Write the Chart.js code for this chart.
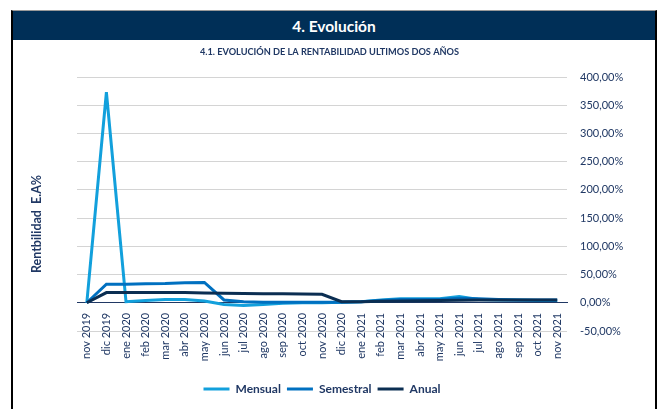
<!DOCTYPE html>
<html>
<head>
<meta charset="utf-8">
<script src="https://cdn.jsdelivr.net/npm/chart.js@4.4.0/dist/chart.umd.min.js"></script>
<style>
  html, body { margin: 0; padding: 0; background: #fff; }
  #panel { position: absolute; left: 11px; top: 10px; width: 642px; height: 420px;
           border-left: 2px solid #000; border-right: 2px solid #000; border-top: 1px solid #999; }
  #header { position: absolute; left: 0; top: 0; width: 642px; height: 29px; background: #002f57;
            color: #fff; font: bold 15.5px Lato, sans-serif; text-align: center; line-height: 31px; }
  #wrap { position: absolute; left: 0; top: 0; width: 659px; height: 409px; }
</style>
</head>
<body>
<div id="panel"><div id="header">4. Evolución</div></div>
<div id="wrap"><canvas id="chart" width="659" height="409"></canvas></div>
<script>
// categorias (meses)
var labels = ['nov 2019', 'dic 2019', 'ene 2020', 'feb 2020', 'mar 2020', 'abr 2020', 'may 2020',
  'jun 2020', 'jul 2020', 'ago 2020', 'sep 2020', 'oct 2020', 'nov 2020', 'dic 2020',
  'ene 2021', 'feb 2021', 'mar 2021', 'abr 2021', 'may 2021', 'jun 2021', 'jul 2021',
  'ago 2021', 'sep 2021', 'oct 2021', 'nov 2021'];

// rentabilidad E.A. en %
var mensual = [0, 373, 2, 4, 6, 6, 3, -3, -5, -3, -1, 0, 0, 1, 2, 5, 7, 7, 7, 11, 6, 5, 5, 4, 4];
var semestral = [0, 33, 33, 33.5, 34, 35.5, 36, 5, 2, 1, 1, 1, 1, 1, 2, 4, 6, 6, 6, 8, 7, 6, 5, 5, 5];
var anual = [0, 18, 18, 18, 18, 18, 17.5, 17, 16.5, 16, 16, 15.5, 15, 2, 2, 2.5, 3, 3.5, 4, 4.5, 5, 5, 5, 5, 5];

var seriesNames = ['Mensual', 'Semestral', 'Anual'];
var colors = ['#12a0dc', '#0070c0', '#0b2e52'];
var navy = '#203864';
var yTitle = 'Rentbilidad  E.A%';

var yMin = -50, yMax = 400, yStep = 50;

var datasets = [mensual, semestral, anual].map(function (d, i) {
  return {
    label: seriesNames[i],
    data: d,
    borderColor: colors[i],
    backgroundColor: colors[i],
    borderWidth: 3,
    pointRadius: 0,
    tension: 0,
    order: 3 - i
  };
});

// titulo del eje vertical (va a la izquierda, algo mas abajo que el centro del area)
var yTitlePlugin = {
  id: 'yTitle',
  afterDraw: function (chart) {
    var c = chart.ctx;
    var area = chart.chartArea;
    c.save();
    c.translate(37, (area.top + area.bottom) / 2 + 20);
    c.rotate(-Math.PI / 2);
    c.font = 'bold 12.5px Lato';
    c.fillStyle = navy;
    c.textAlign = 'center';
    c.textBaseline = 'middle';
    c.fillText(yTitle, 0, 0);
    c.restore();
  }
};

var ctx = document.getElementById('chart').getContext('2d');
new Chart(ctx, {
  type: 'line',
  data: { labels: labels, datasets: datasets },
  plugins: [yTitlePlugin],
  options: {
    responsive: false,
    animation: false,
    layout: { padding: { left: 0, right: 0, top: 0, bottom: 4 } },
    plugins: {
      title: {
        display: true,
        text: '4.1. EVOLUCIÓN DE LA RENTABILIDAD ULTIMOS DOS AÑOS',
        color: navy,
        font: { family: 'Lato', size: 9.2, weight: 'bold' },
        padding: { top: 47, bottom: 18.96 }
      },
      legend: {
        position: 'bottom',
        fullSize: false,
        labels: {
          usePointStyle: true,
          pointStyle: 'line',
          pointStyleWidth: 26,
          padding: 6,
          color: navy,
          font: { family: 'Lato', size: 12, weight: 'bold' },
          sort: function (a, b) { return a.datasetIndex - b.datasetIndex; }
        }
      },
      tooltip: { enabled: false }
    },
    scales: {
      x: {
        type: 'category',
        position: { y: 0 },
        offset: true,
        grid: { display: false, drawTicks: false },
        border: { display: true, color: navy, width: 1 },
        ticks: {
          autoSkip: false, minRotation: 90, maxRotation: 90, padding: 10,
          color: navy, font: { family: 'Lato', size: 11 }
        }
      },
      // espacio bajo el area para las etiquetas del eje x
      xs: {
        type: 'category',
        position: 'bottom',
        grid: { display: false },
        border: { display: false },
        ticks: { display: false },
        afterFit: function (scale) { scale.height = 46; }
      },
      y: {
        position: 'right',
        min: yMin,
        max: yMax,
        grid: { color: '#d4d4d4', lineWidth: 1, drawTicks: false },
        border: { display: false },
        ticks: {
          stepSize: yStep,
          padding: 13,
          color: navy,
          font: { family: 'Lato', size: 11 },
          callback: function (v) { return v.toFixed(2).replace('.', ',') + '%'; }
        },
        afterFit: function (scale) { scale.width = 92; }
      },
      // espacio a la izquierda para el titulo del eje
      yl: {
        position: 'left',
        grid: { display: false },
        border: { display: false },
        ticks: { display: false },
        afterFit: function (scale) { scale.width = 77; }
      }
    }
  }
});
</script>
</body>
</html>
